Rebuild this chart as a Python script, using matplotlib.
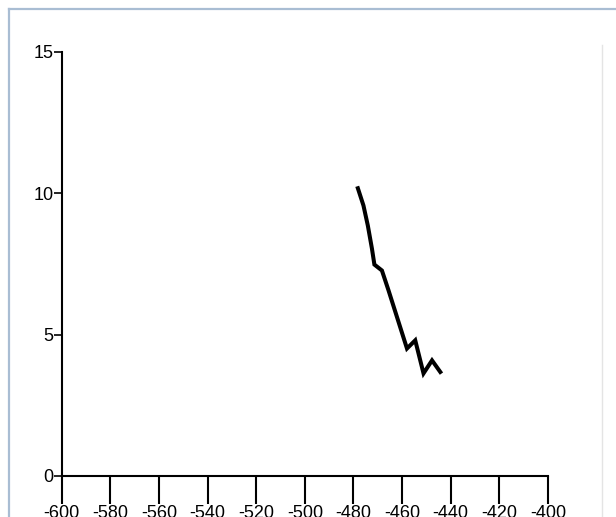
import matplotlib
matplotlib.use("Agg")
import matplotlib.pyplot as plt
from matplotlib.lines import Line2D

# trace read at the sampled positions
x_vals = [-478.2, -475.9, -474.1, -472.4, -471.4, -468.3, -465.6,
          -458.0, -454.6, -451.2, -447.7, -444.3]
y_vals = [10.18, 9.57, 8.86, 8.04, 7.48, 7.27, 6.57,
          4.51, 4.80, 3.63, 4.09, 3.68]

x_ticks = [-600, -580, -560, -540, -520, -500, -480, -460, -440, -420, -400]
y_ticks = [0, 5, 10, 15]

plt.rcParams.update({"font.family": ["Liberation Sans", "DejaVu Sans"],
                     "font.size": 13})

fig = plt.figure(figsize=(6.16, 5.17), dpi=100)
ax = fig.add_axes([61.7 / 616, 41 / 517, (548 - 61.7) / 616, (465 - 41) / 517])

ax.plot(x_vals, y_vals, color="black", lw=2.9, solid_joinstyle="miter")

ax.set_xlim(-600, -400)
ax.set_ylim(0, 15)
ax.set_xticks(x_ticks)
ax.set_yticks(y_ticks)
ax.set_xticklabels([str(v) for v in x_ticks])
ax.set_yticklabels([str(v) for v in y_ticks])

for side in ("top", "right"):
    ax.spines[side].set_visible(False)
for side in ("left", "bottom"):
    ax.spines[side].set_linewidth(1.5)
    ax.spines[side].set_color("black")

ax.tick_params(axis="x", direction="out", length=20, width=1.5, pad=1,
               labelsize=13)
ax.tick_params(axis="y", direction="out", length=6, width=1.2, pad=0,
               labelsize=13)
ax.patch.set_visible(False)

# window frame edges
frame = "#a9bdd3"
fig.add_artist(Line2D([9 / 616, 1], [1 - 8.5 / 517, 1 - 8.5 / 517],
                      transform=fig.transFigure, color=frame, lw=1.6))
fig.add_artist(Line2D([9 / 616, 9 / 616], [0, 1 - 8.5 / 517],
                      transform=fig.transFigure, color=frame, lw=1.6))
fig.add_artist(Line2D([602 / 616, 602 / 616], [0, 1 - 45 / 517],
                      transform=fig.transFigure, color="#e4e4e4", lw=1.0))

fig.savefig("out.png", dpi=100)
